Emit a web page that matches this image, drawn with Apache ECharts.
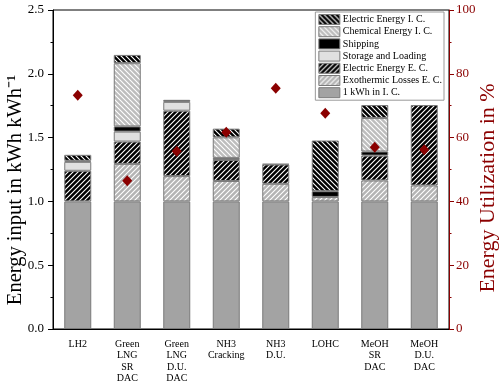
<!DOCTYPE html>
<html><head><meta charset="utf-8">
<script src="https://cdn.jsdelivr.net/npm/echarts@6/dist/echarts.min.js"></script>
<style>html,body{margin:0;padding:0;background:#fff}#c{width:500px;height:384px}</style>
</head><body><div id="c"></div>
<script>
const categories = ['LH2','Green\nLNG\nSR\nDAC','Green\nLNG\nD.U.\nDAC','NH3\nCracking','NH3\nD.U.','LOHC','MeOH\nSR\nDAC','MeOH\nD.U.\nDAC'];
const baseIC      = [1, 1, 1, 1, 1, 1, 1, 1];
const exoLossEC   = [0, 0.294, 0.198, 0.16, 0.138, 0.035, 0.164, 0.125];
const elecEC      = [0.24, 0.175, 0.513, 0.165, 0.151, 0, 0.195, 0.63];
const storage     = [0.07, 0.078, 0.069, 0, 0, 0, 0, 0];
const shipping    = [0.008, 0.041, 0.016, 0.016, 0.005, 0.045, 0.032, 0];
const chemIC      = [0, 0.495, 0, 0.161, 0, 0, 0.263, 0];
const elecIC      = [0.047, 0.065, 0, 0.068, 0, 0.397, 0.101, 0];
const utilization = [73.3, 46.5, 55.7, 61.7, 75.5, 67.6, 57.0, 56.2];
const leftTicks = [0, 0.5, 1.0, 1.5, 2.0, 2.5];
const rightTicks = [0, 20, 40, 60, 80, 100];
const leftTitle = 'Energy input in kWh kWh⁻¹';
const rightTitle = 'Energy Utilization in %';

function hatch(bg, dir) {
  const s = 5;
  const c = document.createElement('canvas');
  c.width = s; c.height = s;
  const x = c.getContext('2d');
  x.fillStyle = bg; x.fillRect(0, 0, s, s);
  x.strokeStyle = '#ffffff'; x.lineWidth = 1.1;
  x.beginPath();
  if (dir === '/') {
    x.moveTo(0, s); x.lineTo(s, 0);
    x.moveTo(-1, 1); x.lineTo(1, -1);
    x.moveTo(s - 1, s + 1); x.lineTo(s + 1, s - 1);
  } else {
    x.moveTo(0, 0); x.lineTo(s, s);
    x.moveTo(s - 1, -1); x.lineTo(s + 1, 1);
    x.moveTo(-1, s - 1); x.lineTo(1, s + 1);
  }
  x.stroke();
  return { image: c, repeat: 'repeat' };
}

const font = 'Liberation Serif';
const red = '#8b0000';
const nz = a => a.map(v => v === 0 ? '-' : v);

const layers = [
  { name: '1 kWh in I. C.', data: baseIC, color: '#a3a3a3' },
  { name: 'Exothermic Losses E. C.', data: exoLossEC, color: hatch('#b4b4b4', '/') },
  { name: 'Electric Energy E. C.', data: elecEC, color: hatch('#000000', '/') },
  { name: 'Storage and Loading', data: storage, color: '#e0e0e0' },
  { name: 'Shipping', data: shipping, color: '#000000' },
  { name: 'Chemical Energy I. C.', data: chemIC, color: hatch('#bdbdbd', '\\') },
  { name: 'Electric Energy I. C.', data: elecIC, color: hatch('#000000', '\\') }
];

const series = layers.map(l => ({
  name: l.name, type: 'bar', stack: 'total', barWidth: 27,
  data: nz(l.data),
  itemStyle: { color: l.color, borderColor: '#7a7a7a', borderWidth: 1 },
  emphasis: { disabled: true }
}));
series.push({
  name: 'Utilization', type: 'scatter', yAxisIndex: 1, data: utilization,
  symbol: 'diamond', symbolSize: [10, 11], itemStyle: { color: red, opacity: 1 }, z: 10
});

const chart = echarts.init(document.getElementById('c'), null, { renderer: 'canvas' });
chart.setOption({
  animation: false,
  textStyle: { fontFamily: font },
  grid: { left: 53, right: 51, top: 10, bottom: 55, show: true, borderColor: '#000', borderWidth: 1,
          containLabel: false, outerBoundsMode: 'none' },
  graphic: [
    { type: 'text', x: 16, y: 190, rotation: Math.PI / 2,
      style: { text: leftTitle, fontFamily: font, fontSize: 20.5, fill: '#000', align: 'center', verticalAlign: 'middle' } },
    { type: 'text', x: 488, y: 188, rotation: Math.PI / 2,
      style: { text: rightTitle, fontFamily: font, fontSize: 22, fill: red, align: 'center', verticalAlign: 'middle' } }
  ],
  legend: {
    data: layers.slice().reverse().map(l => l.name),
    orient: 'vertical', right: 56, top: 12, icon: 'rect',
    itemWidth: 21, itemHeight: 10, itemGap: 1.2,
    backgroundColor: '#fff', borderColor: '#999', borderWidth: 1, padding: [2, 2, 2, 3],
    textStyle: { fontFamily: font, fontSize: 10, color: '#000', padding: [0, 0, 0, -2] },
    itemStyle: { borderColor: '#7a7a7a', borderWidth: 1 }
  },
  xAxis: {
    type: 'category', data: categories,
    axisLine: { lineStyle: { color: '#000' } },
    axisTick: { alignWithLabel: true, length: 5, lineStyle: { color: '#000' } },
    axisLabel: { interval: 0, fontFamily: font, fontSize: 10, color: '#000', lineHeight: 11.2, margin: 10 }
  },
  yAxis: [{
    type: 'value', min: 0, max: 2.5, interval: 0.5,
    axisLine: { show: true, lineStyle: { color: '#000' } },
    axisTick: { show: true, length: 5, lineStyle: { color: '#000' } },
    minorTick: { show: true, splitNumber: 2, length: 2.5, lineStyle: { color: '#000' } },
    splitLine: { show: false },
    axisLabel: { fontFamily: font, fontSize: 13, color: '#000', margin: 9, formatter: v => v.toFixed(1) }
  }, {
    type: 'value', min: 0, max: 100, interval: 20, position: 'right',
    axisLine: { show: true, lineStyle: { color: red } },
    axisTick: { show: true, length: 5, lineStyle: { color: red } },
    minorTick: { show: true, splitNumber: 2, length: 2.5, lineStyle: { color: red } },
    splitLine: { show: false },
    axisLabel: { fontFamily: font, fontSize: 13, color: red, margin: 7 }
  }],
  series
});
</script></body></html>
